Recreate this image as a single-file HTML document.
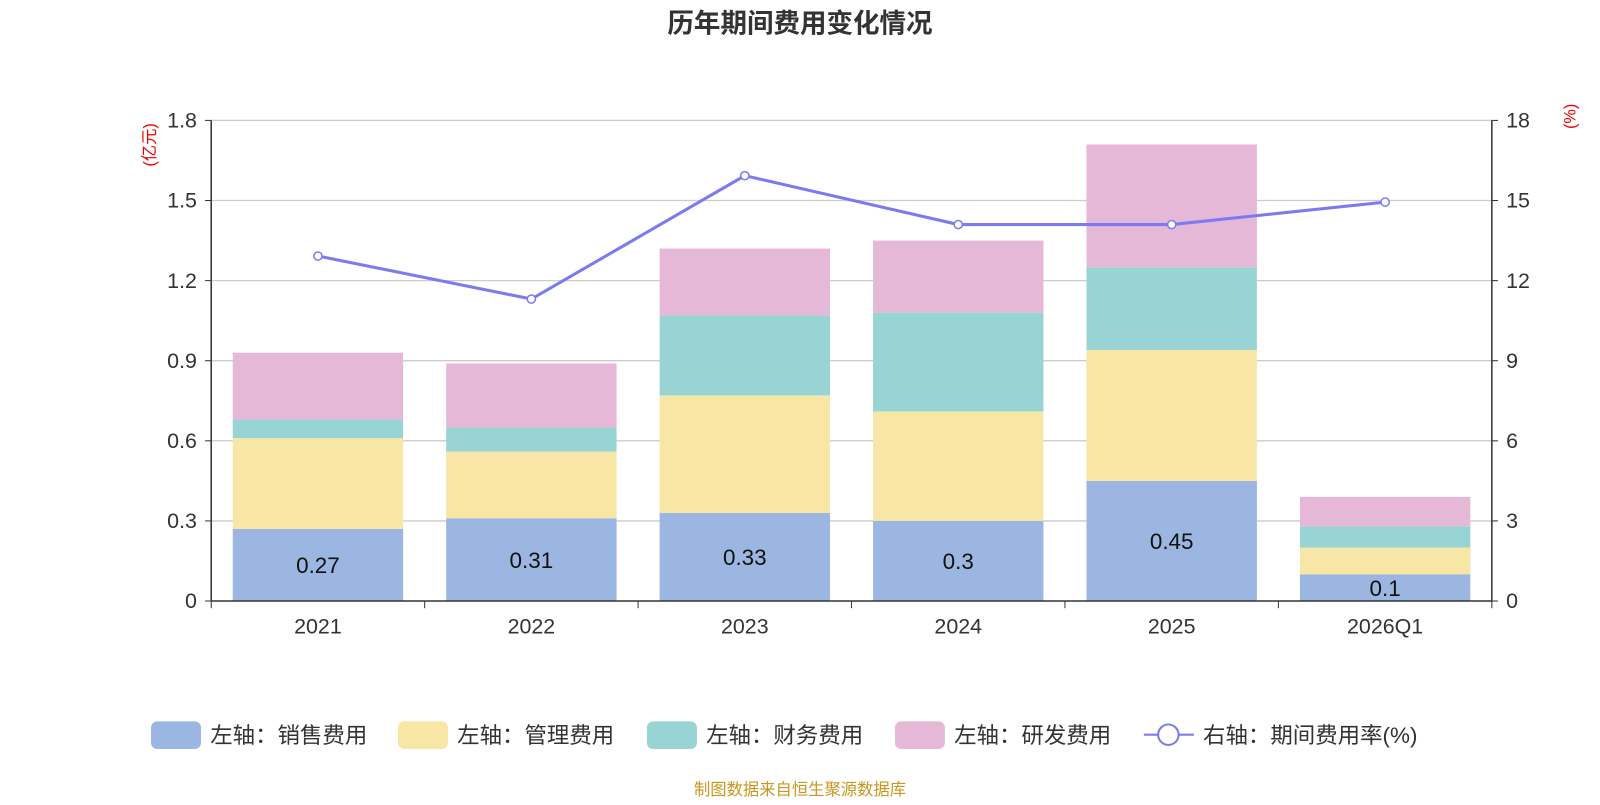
<!DOCTYPE html>
<html><head><meta charset="utf-8">
<style>
html,body{margin:0;padding:0;background:#fff;}
svg text{font-family:"Liberation Sans","Noto Sans CJK SC",sans-serif;}
</style></head>
<body>
<svg id="chart" width="1600" height="800" viewBox="0 0 1568 784" xmlns="http://www.w3.org/2000/svg">
<text x="784" y="32" text-anchor="middle" font-size="26" font-weight="bold" fill="#333">历年期间费用变化情况</text>
<text transform="translate(152,142) rotate(-90)" text-anchor="middle" font-size="16" fill="#e00">(亿元)</text>
<text transform="translate(1544,114) rotate(-90)" text-anchor="middle" font-size="16" fill="#e00">(%)</text>
<g id="grid"></g><g id="bars"></g><g id="line"></g><g id="axes"></g>
<g id="legend" transform="translate(0,720)"></g>
<text x="784" y="779" text-anchor="middle" font-size="16" fill="#c8961e">制图数据来自恒生聚源数据库</text>
</svg>
<script>
const categories=["2021","2022","2023","2024","2025","2026Q1"];
const sales=[0.27,0.31,0.33,0.30,0.45,0.10];
const mgmt=[0.34,0.25,0.44,0.41,0.49,0.10];
const fin=[0.07,0.09,0.30,0.37,0.31,0.08];
const rnd=[0.25,0.24,0.25,0.27,0.46,0.11];
const rate=[12.92,11.31,15.93,14.1,14.1,14.94];
const leftTicks=[0,0.3,0.6,0.9,1.2,1.5,1.8];
const rightTicks=[0,3,6,9,12,15,18];
const seriesNames=["左轴：销售费用","左轴：管理费用","左轴：财务费用","左轴：研发费用"];
const colors=["#9bb6e0","#f7e6a6","#98d4d4","#e6b8d8"];
const NS="http://www.w3.org/2000/svg";
const X0=207,X1=1462,Y0=589,Y1=118;
const band=(X1-X0)/categories.length;
const yL=v=>Y0-(v/1.8)*(Y0-Y1);
const yR=v=>Y0-(v/18)*(Y0-Y1);
const xC=i=>X0+band*(i+0.5);
function mk(tag,attrs,parent){const e=document.createElementNS(NS,tag);for(const k in attrs)e.setAttribute(k,attrs[k]);parent.appendChild(e);return e;}
const grid=document.getElementById('grid'),axes=document.getElementById('axes'),bars=document.getElementById('bars'),line=document.getElementById('line'),legend=document.getElementById('legend');
leftTicks.forEach((t,i)=>{
  const y=yL(t);
  if(i>0){const g=mk('line',{x1:X0,x2:X1,y1:y,y2:y,stroke:'#ccc','stroke-width':1.3},grid);
  
  }
  const tk=mk('line',{x1:X0-6,x2:X0,y1:y,y2:y,stroke:'#333'},axes);
  
  
  const tx=mk('text',{x:X0-14,y:y+7,'text-anchor':'end','font-size':21,fill:'#333'},axes);tx.textContent=t;
  
  
});
rightTicks.forEach(t=>{
  const y=yR(t);
  const tk=mk('line',{x1:X1,x2:X1+6,y1:y,y2:y,stroke:'#333'},axes);
  
  
  const tx=mk('text',{x:X1+14,y:y+7,'font-size':21,fill:'#333'},axes);tx.textContent=t;
  
  
});
let a=mk('line',{x1:X0,x2:X0,y1:Y1,y2:Y0,stroke:'#333','stroke-width':1.5},axes);

a=mk('line',{x1:X1,x2:X1,y1:Y1,y2:Y0,stroke:'#333','stroke-width':1.5},axes);

a=mk('line',{x1:X0,x2:X1,y1:Y0,y2:Y0,stroke:'#333','stroke-width':1.5},axes);

for(let i=0;i<=categories.length;i++){
  const tk=mk('line',{x1:X0+band*i,x2:X0+band*i,y1:Y0,y2:Y0+7,stroke:'#333'},axes);
  
  
}
categories.forEach((c,i)=>{
  const tx=mk('text',{x:xC(i),y:Y0+32,'text-anchor':'middle','font-size':21,fill:'#333'},axes);tx.textContent=c;
  
  
  const stack=[sales[i],mgmt[i],fin[i],rnd[i]];let base=0;const bw=167;
  stack.forEach((v,s)=>{
    const r=mk('rect',{x:xC(i)-bw/2,y:yL(base+v),width:bw,height:yL(base)-yL(base+v),fill:colors[s]},bars);
    
    
    base+=v;
  });
  const lb=mk('text',{x:xC(i),y:(yL(sales[i])+Y0)/2+8,'text-anchor':'middle','font-size':22,fill:'#111'},bars);lb.textContent=sales[i];
  
  
});
const pl=mk('polyline',{points:rate.map((v,i)=>xC(i)+','+yR(v)).join(' '),fill:'none',stroke:'#7b7bef','stroke-width':3},line);


rate.forEach((v,i)=>{
  const c=mk('circle',{cx:xC(i),cy:yR(v),r:4,fill:'#fff',stroke:'#7b7bef','stroke-width':1.5},line);
  
  
});
const lx=[148,390,634,877];
seriesNames.forEach((n,s)=>{
  const r=mk('rect',{x:lx[s],y:-13,width:49,height:27,rx:6,fill:colors[s]},legend);
  
  
  const t=mk('text',{x:lx[s]+58,y:8,'font-size':22,fill:'#333'},legend);t.textContent=n;
  
  
});
let ll=mk('line',{x1:1121,x2:1170,y1:0,y2:0,stroke:'#7b7bef','stroke-width':2},legend);

ll=mk('circle',{cx:1145,cy:0,r:10,fill:'#fff',stroke:'#7b7bef','stroke-width':2},legend);

const lt=mk('text',{x:1179,y:8,'font-size':22,fill:'#333'},legend);lt.textContent="右轴：期间费用率(%)";


</script>
</body></html>
